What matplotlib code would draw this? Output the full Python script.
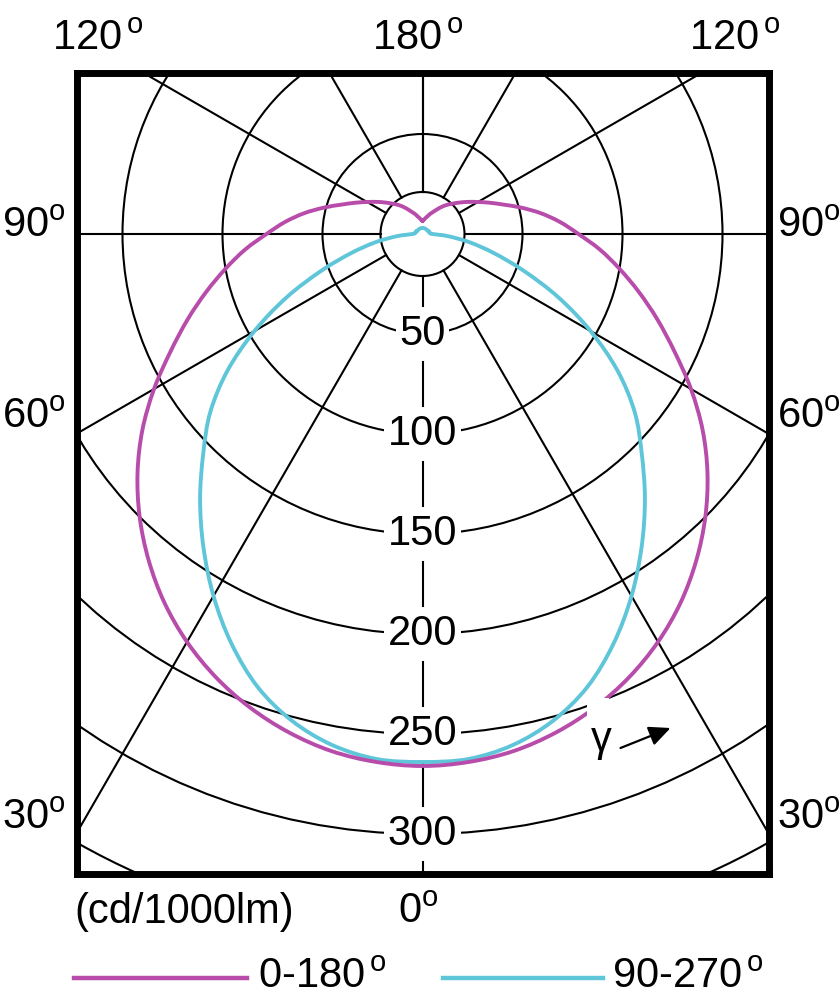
import numpy as np
import matplotlib
matplotlib.use('Agg')
import matplotlib.pyplot as plt
from matplotlib.lines import Line2D
from matplotlib.patches import Circle, Rectangle, PathPatch
from matplotlib.path import Path

plt.rcParams['font.family'] = ['Liberation Sans', 'DejaVu Sans']
plt.rcParams['mathtext.fontset'] = 'custom'
plt.rcParams['mathtext.rm'] = 'Liberation Sans'

# --- data: luminous intensity (cd/1000lm) vs gamma angle (deg from nadir) ---
gamma = [0, 5, 10, 15, 20, 25, 30, 35, 40, 45, 50, 55, 60, 65, 70, 75, 80, 85, 90,
         95, 100, 105, 110, 115, 120, 125, 130, 135, 140, 145, 150, 155, 160, 165,
         170, 175, 180]
c0_180 = [266, 265, 262.5, 258, 252, 244.5, 235.5, 225, 213, 200, 186, 171, 155, 139,
          125, 112, 100, 89, 78, 69, 60, 51, 43, 37, 32, 28, 24.5, 21.5, 19, 16.5, 14,
          12, 10.5, 9, 8, 7, 6.5]
c90_270 = [264, 263.5, 259.5, 252, 241, 226, 209, 191, 173, 155, 138.5, 119, 97, 75,
           54, 37, 24, 13, 5, 4, 3.5, 3.5, 3.5, 3.5, 3, 3, 3, 3, 3, 3, 3, 3, 3, 3, 3,
           3, 3]

ring_values = [50, 100, 150, 200, 250, 300]
extra_rings = [21, 350]
spoke_angles = [30, 60, 90, 120, 150, 180]

side_labels = ['30', '60', '90']
top_labels = ['120', '180', '120']

MAGENTA = '#b84cab'
CYAN = '#5fc5d9'


def smooth_path(x, y):
    # Catmull-Rom through the points, drawn as cubic Bezier segments
    pts = np.column_stack([x, y])
    n = len(pts)
    verts = [pts[0]]
    codes = [Path.MOVETO]
    for i in range(n - 1):
        p0 = pts[max(i - 1, 0)]
        p1 = pts[i]
        p2 = pts[i + 1]
        p3 = pts[min(i + 2, n - 1)]
        verts += [p1 + (p2 - p0) / 6, p2 - (p3 - p1) / 6, p2]
        codes += [Path.CURVE4] * 3
    return Path(verts, codes)


fig = plt.figure(figsize=(8.39, 10), dpi=100)
ax = fig.add_axes([76.5 / 839, 126 / 1000, 692 / 839, 801.5 / 1000])
ax.set_xlim(-173, 173)
ax.set_ylim(-320, 80.75)
ax.set_aspect('equal')
ax.set_xticks([])
ax.set_yticks([])
for sp in ax.spines.values():
    sp.set_linewidth(5)
    sp.set_color('black')
    sp.set_zorder(10)

# rings
for r in extra_rings + ring_values:
    ax.add_patch(Circle((0, 0), r, fill=False, ec='black', lw=1.5, zorder=1))

# spokes (start at inner ring)
r_in = extra_rings[0]
for a in spoke_angles:
    for s in (1, -1):
        t = np.radians(s * a)
        ax.plot([r_in * np.sin(t), 1000 * np.sin(t)],
                [-r_in * np.cos(t), -1000 * np.cos(t)],
                color='black', lw=1.5, zorder=1)

# nadir spoke, broken around the value labels
gap = 14
stops = [r_in] + ring_values + [330]
for i in range(len(stops) - 1):
    lo = stops[i] + (gap if i > 0 else 0)
    hi = stops[i + 1] - (gap if i + 1 < len(stops) - 1 else 0)
    ax.plot([0, 0], [-lo, -hi], color='black', lw=1.5, zorder=1)

for r in ring_values:
    ax.text(0, -r, str(r), ha='center', va='center', fontsize=30, zorder=3,
            bbox=dict(boxstyle='square,pad=0.08', fc='white', ec='none'))

# curves
g = np.radians(np.array(gamma, dtype=float))
full = np.concatenate([-g[::-1], g[1:]])
for vals, col in ((c90_270, CYAN), (c0_180, MAGENTA)):
    v = np.array(vals, dtype=float)
    rr = np.concatenate([v[::-1], v[1:]])
    path = smooth_path(rr * np.sin(full), -rr * np.cos(full))
    ax.add_patch(PathPatch(path, fill=False, ec=col, lw=2.8, zorder=4,
                           capstyle='round', joinstyle='round'))

# gamma marker with white mask over the curve
ax.add_patch(Rectangle((82, -241), 11, 9, fc='white', ec='none', zorder=5))
ax.text(89.5, -253, 'γ', ha='center', va='center', fontsize=30, zorder=6)
ax.annotate('', xy=(124, -247), xytext=(99, -257),
            arrowprops=dict(arrowstyle='-|>,head_length=0.65,head_width=0.3',
                            mutation_scale=20, color='black', lw=1.6,
                            shrinkA=0, shrinkB=0),
            zorder=6)

deg = r'$^{\,\mathrm{o}}$'
deg_tight = r'$^{\mathrm{o}}$'
# top labels
for x, lab in zip([98, 418, 735], top_labels):
    fig.text(x / 839, 0.950, lab + deg, ha='center', va='baseline', fontsize=30)
# side labels
for yb, lab in zip([0.171, 0.572, 0.763], side_labels):
    fig.text(2 / 839, yb, lab + deg_tight, ha='left', va='baseline', fontsize=30)
    fig.text(777 / 839, yb, lab + deg_tight, ha='left', va='baseline', fontsize=30)

fig.text(74 / 839, 0.077, '(cd/1000lm)', ha='left', va='baseline', fontsize=30)
fig.text(418 / 839, 0.077, '0' + deg_tight, ha='center', va='baseline', fontsize=30)

# legend
fig.add_artist(Line2D([74 / 839, 247 / 839], [0.022, 0.022], color=MAGENTA, lw=3.2))
fig.text(258 / 839, 0.012, '0-180' + deg, ha='left', va='baseline', fontsize=30)
fig.add_artist(Line2D([443 / 839, 603 / 839], [0.022, 0.022], color=CYAN, lw=3.2))
fig.text(612 / 839, 0.012, '90-270' + deg, ha='left', va='baseline', fontsize=30)

fig.savefig('out.png', dpi=100, facecolor='white')
